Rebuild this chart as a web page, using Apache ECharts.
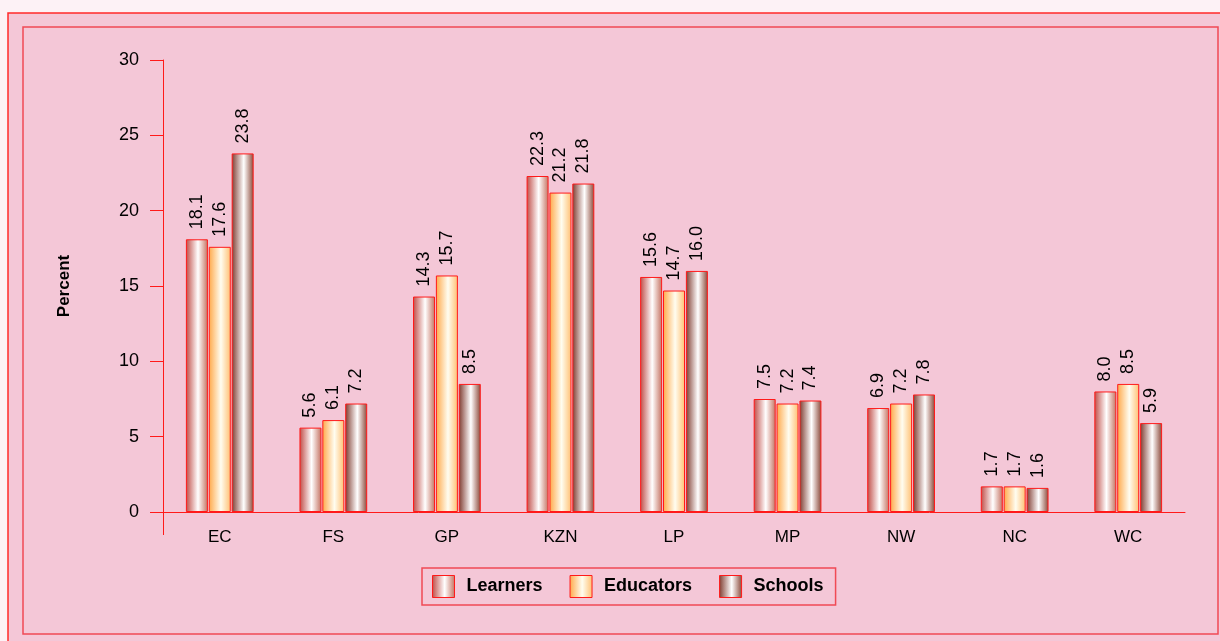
<!DOCTYPE html>
<html>
<head>
<meta charset="utf-8">
<script src="https://cdn.jsdelivr.net/npm/echarts@6/dist/echarts.min.js"></script>
<style>
  html, body { margin: 0; padding: 0; background: #fdf2f6; }
  #main { width: 1220px; height: 641px; }
</style>
</head>
<body>
<div id="main"></div>
<script>
var categories = ['EC', 'FS', 'GP', 'KZN', 'LP', 'MP', 'NW', 'NC', 'WC'];
var learners  = [18.1, 5.6, 14.3, 22.3, 15.6, 7.5, 6.9, 1.7, 8.0];
var educators = [17.6, 6.1, 15.7, 21.2, 14.7, 7.2, 7.2, 1.7, 8.5];
var schools   = [23.8, 7.2, 8.5, 21.8, 16.0, 7.4, 7.8, 1.6, 5.9];

function grad(a, b, c) {
    return {
        type: 'linear', x: 0, y: 0, x2: 1, y2: 0,
        colorStops: [
            {offset: 0, color: a},
            {offset: 0.55, color: b},
            {offset: 1, color: c}
        ]
    };
}

var colLearners  = grad('#bf4a44', '#ffffff', '#c4705f');
var colEducators = grad('#ffa848', '#fffdf0', '#ffbf70');
var colSchools   = grad('#7e3a2e', '#ffffff', '#8a4636');

function barSeries(name, data, color) {
    return {
        name: name,
        type: 'bar',
        data: data,
        barWidth: 22,
        barGap: '4%',
        itemStyle: { color: color, borderColor: '#ff1a1a', borderWidth: 1 },
        label: {
            show: true,
            position: 'top',
            rotate: 90,
            align: 'left',
            verticalAlign: 'middle',
            distance: 10,
            color: '#000',
            fontSize: 18,
            fontFamily: 'Liberation Sans, Arial',
            formatter: function (p) { return p.value.toFixed(1); }
        }
    };
}

var myChart = echarts.init(document.getElementById('main'));
var option = {
    backgroundColor: '#fdf2f6',
    animation: false,
    textStyle: { fontFamily: 'Liberation Sans, Arial' },
    graphic: [
        { type: 'rect', z: -10, shape: { x: 8, y: 13, width: 1230, height: 640 },
          style: { fill: '#f4c7d7', stroke: '#ff2a2a', lineWidth: 1.5 } },
        { type: 'rect', z: -9, shape: { x: 23, y: 27, width: 1195, height: 607 },
          style: { fill: 'none', stroke: '#f04a55', lineWidth: 1.5 } },
        { type: 'line', z: 10, shape: { x1: 163.5, y1: 512, x2: 163.5, y2: 535 },
          style: { stroke: '#ff1a1a', lineWidth: 1 } }
    ],
    legend: {
        data: ['Learners', 'Educators', 'Schools'],
        icon: 'rect',
        left: 422,
        top: 568,
        itemWidth: 22,
        itemHeight: 22,
        itemGap: 27,
        padding: [7, 12, 7, 10],
        borderColor: '#f04a55',
        borderWidth: 1.5,
        textStyle: { fontSize: 18, fontWeight: 'bold', color: '#000', padding: [0, 0, 0, 7] },
        itemStyle: { borderColor: '#ff1a1a', borderWidth: 1 }
    },
    grid: { left: 163, top: 60, right: 35, bottom: 129 },
    xAxis: {
        type: 'category',
        data: categories,
        axisLine: { lineStyle: { color: '#ff1a1a', width: 1 } },
        axisTick: { show: false },
        axisLabel: { color: '#000', fontSize: 17, margin: 17 }
    },
    yAxis: {
        type: 'value',
        min: 0,
        max: 30,
        interval: 5,
        name: 'Percent',
        nameLocation: 'middle',
        nameRotate: 90,
        nameGap: 90,
        nameTextStyle: { fontSize: 17, fontWeight: 'bold', color: '#000' },
        axisLine: { show: true, lineStyle: { color: '#ff1a1a', width: 1 } },
        axisTick: { show: true, length: 13, lineStyle: { color: '#ff1a1a' } },
        axisLabel: { color: '#000', fontSize: 18, margin: 24 },
        splitLine: { show: false }
    },
    series: [
        barSeries('Learners', learners, colLearners),
        barSeries('Educators', educators, colEducators),
        barSeries('Schools', schools, colSchools)
    ]
};
if (option && typeof option === "object") {
    myChart.setOption(option, true);
}
</script>
</body>
</html>
